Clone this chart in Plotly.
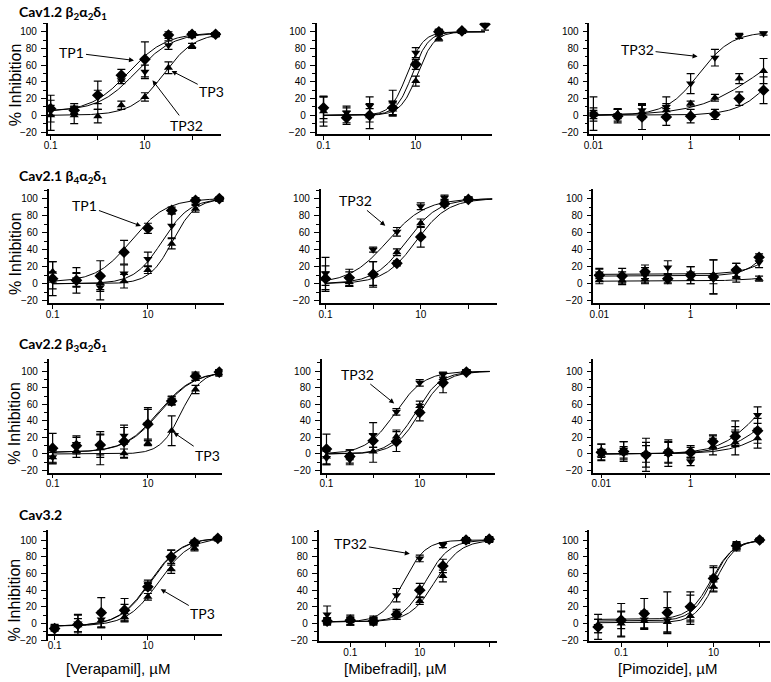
import numpy as np
import plotly.graph_objects as go

W, H = 771, 682

# ---------------- doses (µM) ----------------
VERAPAMIL_UM = [0.1, 0.316, 1, 3.16, 10, 31.6, 100, 316]
MIBEFRADIL_UM = [0.1, 0.316, 1, 3.16, 10, 31.6, 100, 316]
MIBEFRADIL_UM_CAV32 = [0.0215, 0.1, 0.464, 2.15, 10, 46.4, 215, 1000]
PIMOZIDE_UM = [0.01, 0.0316, 0.1, 0.316, 1, 3.16, 10, 31.6]
PIMOZIDE_UM_CAV32 = [0.0316, 0.1, 0.316, 1, 3.16, 10, 31.6, 100]

ROW_TITLES = ["Cav1.2 β<sub>2</sub>α<sub>2</sub>δ<sub>1</sub>",
              "Cav2.1 β<sub>4</sub>α<sub>2</sub>δ<sub>1</sub>",
              "Cav2.2 β<sub>3</sub>α<sub>2</sub>δ<sub>1</sub>",
              "Cav3.2"]
X_TITLES = ["[Verapamil], µM", "[Mibefradil], µM", "[Pimozide], µM"]
Y_TITLE = "% Inhibition"

# ---------------- % inhibition (mean, error) ----------------
# Cav1.2 / Verapamil
C12_VER_TP1 = [8, 6, 24, 48, 67, 96, 97, 97]
C12_VER_TP1_ERR = [16, 5, 17, 7, 21, 4, 3, 2]
C12_VER_TP32 = [6, 8, 22, 42, 52, 84, 96, 97]
C12_VER_TP32_ERR = [6, 6, 8, 4, 8, 5, 3, 2]
C12_VER_TP3 = [0, 0, -1, 12, 22, 57, 83, 96]
C12_VER_TP3_ERR = [18, 10, 8, 5, 5, 7, 3, 2]
# Cav1.2 / Mibefradil
C12_MIB_TP1 = [9, -3, 0, 9, 61, 100, 101, 109]
C12_MIB_TP1_ERR = [13, 8, 8, 8, 6, 3, 2, 7]
C12_MIB_TP32 = [7, 3, 11, 15, 75, 100, 100, None]
C12_MIB_TP32_ERR = [15, 6, 11, 15, 6, 3, 2, 0]
C12_MIB_TP3 = [5, 1, -1, 7, 41, 92, 100, None]
C12_MIB_TP3_ERR = [18, 10, 15, 8, 6, 3, 2, 0]
# Cav1.2 / Pimozide
C12_PIM_TP1 = [1, -1, -2, -2, -1, 1, 20, 30]
C12_PIM_TP1_ERR = [5, 8, 15, 10, 8, 6, 8, 16]
C12_PIM_TP32 = [2, 0, 6, 10, 38, 69, 95, 98]
C12_PIM_TP32_ERR = [20, 7, 8, 12, 12, 10, 3, 2]
C12_PIM_TP3 = [1, 2, 4, 6, 14, 21, 44, 53]
C12_PIM_TP3_ERR = [8, 6, 8, 8, 3, 4, 6, 15]
# Cav2.1 / Verapamil
C21_VER_TP1 = [6, 4, 9, 37, 65, 86, 98, 100]
C21_VER_TP1_ERR = [20, 15, 18, 14, 6, 4, 3, 2]
C21_VER_TP32 = [4, 5, -4, 12, 29, 68, 96, 99]
C21_VER_TP32_ERR = [10, 8, 15, 10, 8, 14, 3, 2]
C21_VER_TP3 = [14, 4, 1, 3, 16, 47, 88, 99]
C21_VER_TP3_ERR = [12, 8, 8, 8, 4, 6, 4, 2]
# Cav2.1 / Mibefradil
C21_MIB_TP1 = [6, 7, 11, 24, 55, 94, 99, None]
C21_MIB_TP1_ERR = [15, 10, 15, 3, 12, 3, 2, 0]
C21_MIB_TP32 = [12, 6, 40, 61, 91, 101, 100, None]
C21_MIB_TP32_ERR = [19, 8, 3, 5, 4, 3, 2, 0]
C21_MIB_TP3 = [6, 2, 12, 37, 71, 96, 99, None]
C21_MIB_TP3_ERR = [8, 5, 14, 4, 5, 3, 2, 0]
# Cav2.1 / Pimozide
C21_PIM_TP1 = [10, 9, 14, 6, 10, 8, 16, 31]
C21_PIM_TP1_ERR = [7, 9, 8, 6, 10, 20, 8, 4]
C21_PIM_TP32 = [12, 8, 10, 19, 12, 8, 16, 25]
C21_PIM_TP32_ERR = [6, 6, 9, 8, 8, 20, 8, 6]
C21_PIM_TP3 = [4, 4, 5, 6, 6, 6, 8, 6]
C21_PIM_TP3_ERR = [4, 5, 5, 5, 6, 6, 6, 3]
# Cav2.2 / Verapamil
C22_VER_TP1 = [7, 10, 11, 15, 36, 64, 94, 99]
C22_VER_TP1_ERR = [18, 10, 12, 20, 20, 5, 5, 3]
C22_VER_TP32 = [-4, 12, 10, 22, 36, 65, 93, 99]
C22_VER_TP32_ERR = [8, 10, 14, 10, 18, 5, 4, 3]
C22_VER_TP3 = [-4, 4, 7, 1, 13, 28, 78, 97]
C22_VER_TP3_ERR = [6, 8, 20, 5, 3, 18, 5, 3]
# Cav2.2 / Mibefradil
C22_MIB_TP1 = [6, -3, 16, 15, 50, 86, 99, None]
C22_MIB_TP1_ERR = [18, 8, 8, 12, 10, 12, 2, 0]
C22_MIB_TP32 = [-5, -7, 23, 51, 86, 96, 100, None]
C22_MIB_TP32_ERR = [8, 6, 15, 4, 4, 3, 2, 0]
C22_MIB_TP3 = [-3, -1, 3, 21, 58, 92, 99, None]
C22_MIB_TP3_ERR = [10, 6, 13, 8, 6, 5, 2, 0]
# Cav2.2 / Pimozide
C22_PIM_TP1 = [2, 3, -1, 2, 2, 15, 21, 28]
C22_PIM_TP1_ERR = [10, 12, 15, 12, 8, 8, 12, 15]
C22_PIM_TP32 = [4, 5, 0, 3, -9, 14, 25, 47]
C22_PIM_TP32_ERR = [8, 10, 10, 14, 5, 8, 15, 10]
C22_PIM_TP3 = [-1, 1, -1, 0, 2, 9, 14, 19]
C22_PIM_TP3_ERR = [6, 8, 20, 15, 6, 10, 15, 12]
# Cav3.2 / Verapamil
C32_VER_TP1 = [-6, -1, 13, 16, 44, 80, 97, 102]
C32_VER_TP1_ERR = [3, 12, 18, 14, 4, 8, 3, 2]
C32_VER_TP32 = [-5, 0, 5, 13, 48, 76, 96, 101]
C32_VER_TP32_ERR = [3, 10, 10, 10, 4, 12, 3, 2]
C32_VER_TP3 = [-4, -2, 4, 8, 32, 65, 90, 102]
C32_VER_TP3_ERR = [3, 8, 8, 4, 4, 5, 3, 2]
# Cav3.2 / Mibefradil
C32_MIB_TP1 = [3, 4, 3, 11, 40, 69, 100, 101]
C32_MIB_TP1_ERR = [4, 6, 4, 6, 8, 8, 3, 3]
C32_MIB_TP32 = [11, 3, 5, 34, 78, 94, 100, 101]
C32_MIB_TP32_ERR = [10, 5, 4, 8, 4, 3, 3, 3]
C32_MIB_TP3 = [2, 3, 2, 10, 27, 57, 99, 100]
C32_MIB_TP3_ERR = [4, 4, 4, 5, 4, 7, 3, 3]
# Cav3.2 / Pimozide
C32_PIM_TP1 = [-4, 4, 12, 13, 20, 54, 93, 100]
C32_PIM_TP1_ERR = [15, 20, 18, 25, 18, 15, 4, 2]
C32_PIM_TP32 = [-3, 4, 5, 4, 19, 55, 94, 100]
C32_PIM_TP32_ERR = [8, 10, 10, 15, 15, 12, 4, 2]
C32_PIM_TP3 = [-3, 0, 3, 2, 9, 44, 91, 100]
C32_PIM_TP3_ERR = [8, 15, 10, 12, 10, 6, 4, 2]

# ---------------- Hill fits: [bottom, top, IC50 (µM), Hill slope] ----------------
C12_VER_FIT = {"TP1": [4, 99, 4.5, 1.1], "TP32": [5, 99, 6.5, 1.1], "TP3": [0, 99, 25, 1.3]}
C12_MIB_FIT = {"TP1": [0, 100, 8.5, 2.5], "TP32": [0, 100, 6.5, 2.5], "TP3": [0, 100, 11, 2.4]}
C12_PIM_FIT = {"TP1": [0, 100, 60, 1.2], "TP32": [0, 100, 1.5, 1.3], "TP3": [0, 100, 25, 0.7]}
C21_VER_FIT = {"TP1": [2, 100, 4.5, 1.2], "TP32": [0, 100, 20, 1.5], "TP3": [0, 100, 33, 1.8]}
C21_MIB_FIT = {"TP1": [0, 100, 8.0, 1.3], "TP32": [0, 100, 2.0, 1.1], "TP3": [0, 100, 5.0, 1.3]}
C21_PIM_FIT = {"TP1": [9, 100, 80, 1.5], "TP32": [11, 100, 150, 1.2], "TP3": [3, 100, 2000, 0.8]}
C22_VER_FIT = {"TP1": [2, 100, 18, 1.2], "TP32": [2, 100, 17, 1.2], "TP3": [0, 100, 50, 2.0]}
C22_MIB_FIT = {"TP1": [0, 100, 10, 1.6], "TP32": [0, 100, 3.0, 1.4], "TP3": [0, 100, 8, 1.6]}
C22_PIM_FIT = {"TP1": [0, 100, 80, 0.9], "TP32": [0, 100, 35, 1.0], "TP3": [0, 100, 150, 0.9]}
C32_VER_FIT = {"TP1": [-3, 103, 11, 1.3], "TP32": [-3, 103, 11.5, 1.3], "TP3": [-3, 103, 17, 1.3]}
C32_MIB_FIT = {"TP1": [2, 100, 15, 1.3], "TP32": [2, 100, 3.5, 1.4], "TP3": [2, 100, 28, 1.2]}
C32_PIM_FIT = {"TP1": [5, 100, 9, 1.8], "TP32": [3, 100, 9.5, 1.9], "TP3": [1, 100, 11, 2.0]}

PANELS = [
    # row, col, doses, {series: (values, errors)}, fit
    (0, 0, VERAPAMIL_UM, {"TP1": (C12_VER_TP1, C12_VER_TP1_ERR), "TP32": (C12_VER_TP32, C12_VER_TP32_ERR), "TP3": (C12_VER_TP3, C12_VER_TP3_ERR)}, C12_VER_FIT),
    (0, 1, MIBEFRADIL_UM, {"TP1": (C12_MIB_TP1, C12_MIB_TP1_ERR), "TP32": (C12_MIB_TP32, C12_MIB_TP32_ERR), "TP3": (C12_MIB_TP3, C12_MIB_TP3_ERR)}, C12_MIB_FIT),
    (0, 2, PIMOZIDE_UM, {"TP1": (C12_PIM_TP1, C12_PIM_TP1_ERR), "TP32": (C12_PIM_TP32, C12_PIM_TP32_ERR), "TP3": (C12_PIM_TP3, C12_PIM_TP3_ERR)}, C12_PIM_FIT),
    (1, 0, VERAPAMIL_UM, {"TP1": (C21_VER_TP1, C21_VER_TP1_ERR), "TP32": (C21_VER_TP32, C21_VER_TP32_ERR), "TP3": (C21_VER_TP3, C21_VER_TP3_ERR)}, C21_VER_FIT),
    (1, 1, MIBEFRADIL_UM, {"TP1": (C21_MIB_TP1, C21_MIB_TP1_ERR), "TP32": (C21_MIB_TP32, C21_MIB_TP32_ERR), "TP3": (C21_MIB_TP3, C21_MIB_TP3_ERR)}, C21_MIB_FIT),
    (1, 2, PIMOZIDE_UM, {"TP1": (C21_PIM_TP1, C21_PIM_TP1_ERR), "TP32": (C21_PIM_TP32, C21_PIM_TP32_ERR), "TP3": (C21_PIM_TP3, C21_PIM_TP3_ERR)}, C21_PIM_FIT),
    (2, 0, VERAPAMIL_UM, {"TP1": (C22_VER_TP1, C22_VER_TP1_ERR), "TP32": (C22_VER_TP32, C22_VER_TP32_ERR), "TP3": (C22_VER_TP3, C22_VER_TP3_ERR)}, C22_VER_FIT),
    (2, 1, MIBEFRADIL_UM, {"TP1": (C22_MIB_TP1, C22_MIB_TP1_ERR), "TP32": (C22_MIB_TP32, C22_MIB_TP32_ERR), "TP3": (C22_MIB_TP3, C22_MIB_TP3_ERR)}, C22_MIB_FIT),
    (2, 2, PIMOZIDE_UM, {"TP1": (C22_PIM_TP1, C22_PIM_TP1_ERR), "TP32": (C22_PIM_TP32, C22_PIM_TP32_ERR), "TP3": (C22_PIM_TP3, C22_PIM_TP3_ERR)}, C22_PIM_FIT),
    (3, 0, VERAPAMIL_UM, {"TP1": (C32_VER_TP1, C32_VER_TP1_ERR), "TP32": (C32_VER_TP32, C32_VER_TP32_ERR), "TP3": (C32_VER_TP3, C32_VER_TP3_ERR)}, C32_VER_FIT),
    (3, 1, MIBEFRADIL_UM_CAV32, {"TP1": (C32_MIB_TP1, C32_MIB_TP1_ERR), "TP32": (C32_MIB_TP32, C32_MIB_TP32_ERR), "TP3": (C32_MIB_TP3, C32_MIB_TP3_ERR)}, C32_MIB_FIT),
    (3, 2, PIMOZIDE_UM_CAV32, {"TP1": (C32_PIM_TP1, C32_PIM_TP1_ERR), "TP32": (C32_PIM_TP32, C32_PIM_TP32_ERR), "TP3": (C32_PIM_TP3, C32_PIM_TP3_ERR)}, C32_PIM_FIT),
]

SYMBOLS = {"TP1": "diamond", "TP32": "triangle-down", "TP3": "triangle-up"}
SIZES = {"TP1": 9, "TP32": 8, "TP3": 8}

# ---------------- layout geometry (pixels) ----------------
# rows: top, bottom, pixel of y=100, pixel of y=-20
ROW_PX = [(23, 135, 32, 133), (190, 305, 200, 303), (362, 476, 374, 474), (534, 646, 544, 645)]
# panels: left, right, reference pixel, log10 at reference, px per decade
PANEL_X = {
    (0, 0): (42, 217, 45, -1, 47.5), (1, 0): (43, 220, 47, -1, 48), (2, 0): (43, 218, 47, -1, 48), (3, 0): (42, 218, 49, -1, 47),
    (0, 1): (313, 490, 320, -1, 46.5), (1, 1): (317, 495, 322, -1, 48), (2, 1): (318, 493, 323, -1, 47), (3, 1): (315, 495, 347, -1, 35),
    (0, 2): (588, 770, 592, -2, 49), (1, 2): (592, 770, 598, -2, 46), (2, 2): (592, 770, 600, -2, 45), (3, 2): (588, 770, 620, -1, 46.5),
}
TICKS = {
    0: ([0.1, 1, 10, 100], ["0.1", "", "10", ""]),
    1: ([0.1, 1, 10, 100], ["0.1", "", "10", ""]),
    2: ([0.01, 0.1, 1, 10], ["0.01", "", "1", ""]),
}
TICKS_R4 = {
    0: ([0.1, 1, 10, 100], ["0.1", "", "10", ""]),
    1: ([0.1, 1, 10, 100, 1000], ["0.1", "", "10", "", ""]),
    2: ([0.1, 1, 10, 100], ["0.1", "", "10", ""]),
}


def hill(x, p):
    b, t, ic, n = p
    return b + (t - b) / (1.0 + (ic / x) ** n)


def px2fx(px):
    return px / W


def px2fy(py):
    return 1 - py / H


TICK_FONT = dict(family="Liberation Sans, Arial, sans-serif", size=10, color="black")

fig = go.Figure()
layout = dict(
    width=W, height=H, margin=dict(l=0, r=0, t=0, b=0),
    paper_bgcolor="white", plot_bgcolor="white", showlegend=False,
)
annotations = []

for idx, (r, c, doses, series, fit) in enumerate(PANELS):
    k = idx + 1
    xa = "x" if k == 1 else f"x{k}"
    ya = "y" if k == 1 else f"y{k}"
    left, right, refpx, reflog, dec = PANEL_X[(r, c)]
    top, bottom, p100, pm20 = ROW_PX[r]
    unit = (pm20 - p100) / 120.0
    ymax = 100 + (p100 - top) / unit
    ymin = -20 - (bottom - pm20) / unit
    xlo = reflog - (refpx - left) / dec
    xhi = reflog + (right - refpx) / dec

    grid = np.logspace(np.log10(doses[0]), np.log10(doses[-1]), 200)
    for name in ["TP1", "TP32", "TP3"]:
        fig.add_trace(go.Scatter(x=grid, y=hill(grid, fit[name]), mode="lines",
                                 line=dict(color="black", width=1), xaxis=xa, yaxis=ya,
                                 hoverinfo="skip"))
    for name in ["TP3", "TP32", "TP1"]:
        vals, errs = series[name]
        fig.add_trace(go.Scatter(
            x=doses, y=vals, mode="markers", xaxis=xa, yaxis=ya, name=name,
            marker=dict(symbol=SYMBOLS[name], size=SIZES[name], color="black"),
            error_y=dict(type="data", array=errs, visible=True, color="black", thickness=1.2, width=4),
        ))

    tv, tt = (TICKS_R4 if r == 3 else TICKS)[c]
    xaxis = dict(
        type="log", range=[xlo, xhi], domain=[px2fx(left), px2fx(right)],
        anchor=ya, showline=True, linecolor="black", linewidth=1.5,
        ticks="outside", ticklen=4, tickwidth=1.2, tickcolor="black",
        tickmode="array", tickvals=tv, ticktext=tt, tickfont=TICK_FONT,
        showgrid=False, zeroline=False, ticklabelstandoff=-3,
    )
    if (r, c) == (3, 0):
        xaxis.update(anchor="free", position=px2fy(640))
    yaxis = dict(
        range=[ymin, ymax], domain=[px2fy(bottom), px2fy(top)], anchor=xa,
        showline=True, linecolor="black", linewidth=1.5,
        ticks="outside", ticklen=5, tickwidth=1.2, tickcolor="black",
        tickmode="array", tickvals=[-20, 0, 20, 40, 60, 80, 100], tickfont=TICK_FONT,
        minor=dict(tickmode="array", tickvals=[-10, 10, 30, 50, 70, 90, 110],
                   ticks="outside", ticklen=3, tickwidth=1, tickcolor="black", showgrid=False),
        showgrid=False, zeroline=False, ticklabelstandoff=2,
    )
    layout["xaxis" if k == 1 else f"xaxis{k}"] = xaxis
    layout["yaxis" if k == 1 else f"yaxis{k}"] = yaxis

# row titles
ROW_TITLE_Y = [13, 178, 347, 518]
for r, t in enumerate(ROW_TITLES):
    annotations.append(dict(text=f"<b>{t}</b>", x=px2fx(11), y=px2fy(ROW_TITLE_Y[r]), xref="paper", yref="paper",
                            xanchor="left", yanchor="middle", showarrow=False,
                            font=dict(family="Lato, Carlito, sans-serif", size=14, color="black")))
# y titles
Y_TITLE_CY = [85, 255, 426, 604]
for cy in Y_TITLE_CY:
    annotations.append(dict(text=Y_TITLE, x=px2fx(9), y=px2fy(cy), xref="paper", yref="paper",
                            xanchor="center", yanchor="middle", textangle=-90, showarrow=False,
                            font=dict(family="Liberation Sans, Arial, sans-serif", size=16, color="black")))
# x titles
X_TITLE_CX = [113, 393, 667]
for cx, t in zip(X_TITLE_CX, X_TITLES):
    annotations.append(dict(text=t, x=px2fx(cx), y=px2fy(673), xref="paper", yref="paper",
                            xanchor="center", yanchor="middle", showarrow=False,
                            font=dict(family="Liberation Sans, Arial, sans-serif", size=15, color="black")))

# arrow labels: (text, text centre px, arrow head px)
LABELS = [
    ("TP1", (67, 53), (130, 61)),
    ("TP3", (207, 92), (166, 71)),
    ("TP32", (182, 126), (147, 80)),
    ("TP32", (637, 50), (698, 57)),
    ("TP1", (80, 207), (137, 228)),
    ("TP32", (352, 202), (383, 228)),
    ("TP3", (203, 459), (168, 435)),
    ("TP32", (355, 377), (392, 407)),
    ("TP3", (198, 618), (155, 593)),
    ("TP32", (348, 548), (408, 558)),
]
for text, (tx, ty), (hx, hy) in LABELS:
    annotations.append(dict(text=text, x=px2fx(hx), y=px2fy(hy), xref="paper", yref="paper",
                            ax=tx - hx, ay=ty - hy, showarrow=True, arrowhead=2, arrowsize=1,
                            arrowwidth=1, arrowcolor="black", standoff=1,
                            font=dict(family="Lato, Carlito, sans-serif", size=14, color="black")))

layout["annotations"] = annotations
fig.update_layout(**layout)
fig.write_html("out.html", config={"displayModeBar": False},
               post_script="document.body.style.margin='0';document.body.style.overflow='hidden';")
